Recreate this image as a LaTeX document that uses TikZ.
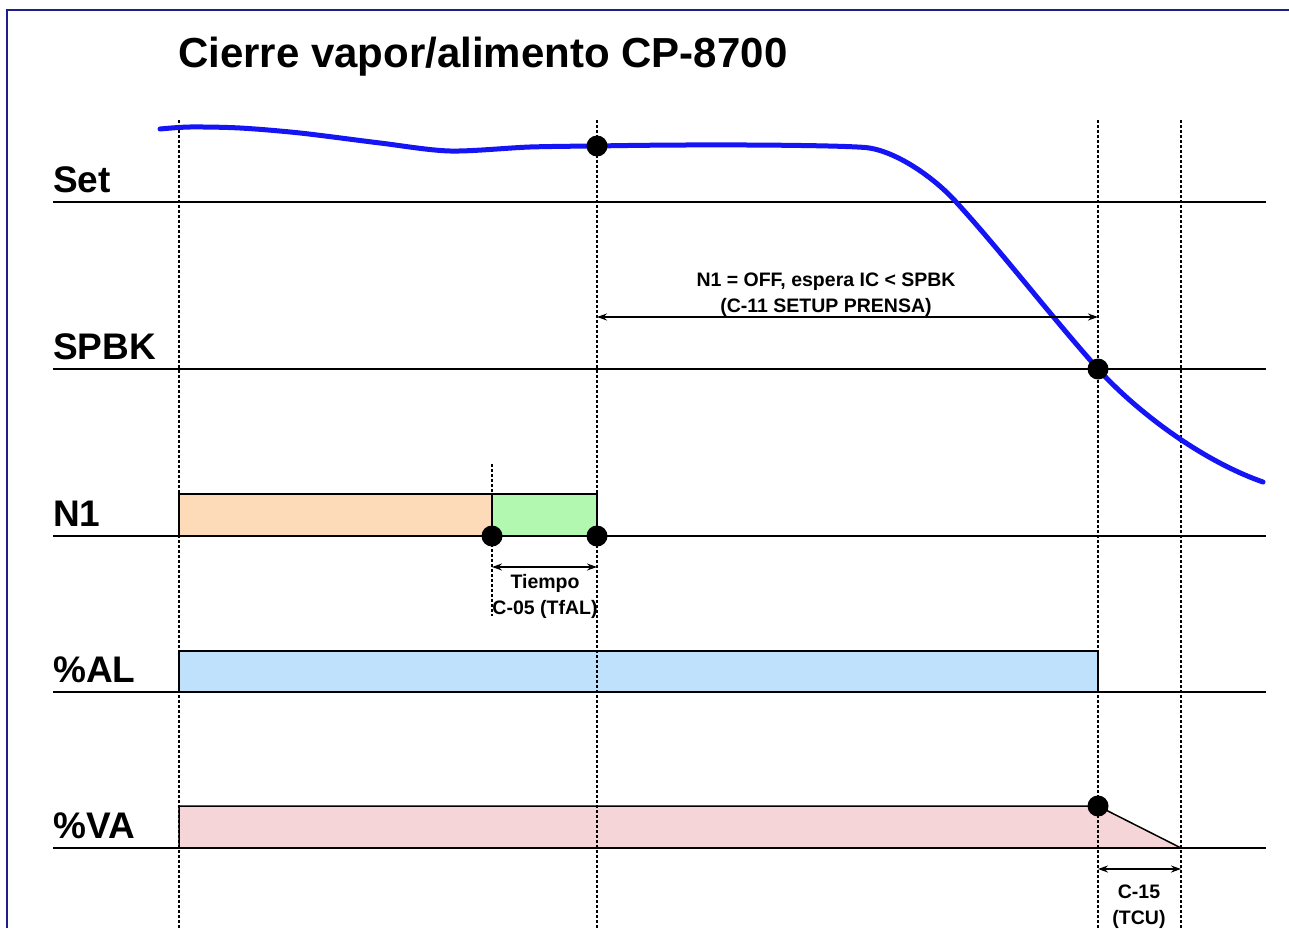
\documentclass[tikz,border=0pt]{standalone}
\usepackage{fontspec}
\setmainfont{Liberation Sans}
\usetikzlibrary{arrows.meta}
\definecolor{framecol}{HTML}{1E1E8C}
\definecolor{curvecol}{HTML}{1414F5}
\definecolor{orangefill}{HTML}{FDDAB8}
\definecolor{greenfill}{HTML}{B3F8B0}
\definecolor{bluefill}{HTML}{BFE1FB}
\definecolor{pinkfill}{HTML}{F5D5D8}
\tikzset{
  axisline/.style={line width=2pt, black},
  guide/.style={line width=1.5pt, dash pattern=on 3pt off 2pt, black},
  dot/.style={circle, fill=black, inner sep=0pt, minimum size=21pt},
  bar/.style={draw=black, line width=1.5pt},
  rowlabel/.style={anchor=base west, inner sep=0pt, font=\bfseries\fontsize{37}{40}\selectfont},
  dimtext/.style={align=center, inner sep=0pt, font=\bfseries\fontsize{19.5}{26}\selectfont},
  dimarrow/.style={line width=1.3pt, {Stealth[length=10pt,width=7pt]}-{Stealth[length=10pt,width=7pt]}},
  curve/.style={curvecol, line width=5pt, line cap=round},
}
\begin{document}
\begin{tikzpicture}[x=1pt,y=-1pt]
\useasboundingbox (0,0) rectangle (1289,928);
% frame
\draw[framecol, line width=2.2pt] (7,928) -- (7,10) -- (1289,10);
% title
\node[anchor=base west, inner sep=0pt, font=\bfseries\fontsize{42}{46}\selectfont] (title) at (178,68) {Cierre vapor/alimento CP-8700};
% fills
\fill[orangefill] (179,494) rectangle (492,536);
\fill[greenfill] (492,494) rectangle (597,536);
\fill[bluefill] (179,651) rectangle (1098,692);
\fill[pinkfill] (179,806) -- (1098,806) -- (1181,848) -- (179,848) -- cycle;
% bar outlines
\draw[bar] (179,536) -- (179,494) -- (597,494) -- (597,536);
\draw[bar] (492,494) -- (492,536);
\draw[bar] (179,692) -- (179,651) -- (1098,651) -- (1098,692);
\draw[bar] (179,848) -- (179,806) -- (1098,806) -- (1181,848);
% guides
\coordinate (g1t) at (179,120); \coordinate (g1b) at (179,928);
\coordinate (g2t) at (597,120); \coordinate (g2b) at (597,928);
\coordinate (g3t) at (1098,120); \coordinate (g3b) at (1098,928);
\coordinate (g4t) at (1181,120); \coordinate (g4b) at (1181,928);
\coordinate (g5t) at (492,464); \coordinate (g5b) at (492,616);
\draw[guide] (g1t) -- (g1b);
\draw[guide] (g2t) -- (g2b);
\draw[guide] (g3t) -- (g3b);
\draw[guide] (g4t) -- (g4b);
\draw[guide] (g5t) -- (g5b);
% axis lines
\foreach \yy in {202,369,536,692,848} \draw[axisline] (53,\yy) -- (1266,\yy);
% labels
\node[rowlabel] (lset) at (53,193) {Set};
\node[rowlabel] (lspbk) at (53,359) {SPBK};
\node[rowlabel] (ln1) at (53,526) {N1};
\node[rowlabel] (lal) at (53,682) {\%AL};
\node[rowlabel] (lva) at (53,838) {\%VA};
% curve
\draw[curve] plot[smooth, tension=0.5] coordinates {
 (160,129) (190,127) (240,128) (300,133) (380,143) (450,151) (530,147) (597,146)};
\draw[curve] (597,146) .. controls (700,144) and (835,145) .. (865,147.5)
  .. controls (895,150) and (935,178) .. (957,203)
  .. controls (1000,250) and (1050,315) .. (1098,369)
  .. controls (1135,410) and (1200,460) .. (1263,482);
% dots
\node[dot] (d1) at (597,146) {};
\node[dot] (d2) at (1098,369) {};
\node[dot] (d3) at (492,536) {};
\node[dot] (d4) at (597,536) {};
\node[dot] (d5) at (1098,806) {};
% dimension arrows
\coordinate (a1l) at (597,317); \coordinate (a1r) at (1098,317);
\draw[dimarrow] (a1l) -- (a1r);
\node[dimtext] (t1) at (826,295) {N1 = OFF, espera IC < SPBK\\(C-11 SETUP PRENSA)};
\coordinate (a2l) at (492,567); \coordinate (a2r) at (597,567);
\draw[dimarrow] (a2l) -- (a2r);
\node[dimtext] (t2) at (545,596) {Tiempo\\C-05 (TfAL)};
\coordinate (a3l) at (1098,869); \coordinate (a3r) at (1181,869);
\draw[dimarrow] (a3l) -- (a3r);
\node[dimtext] (t3) at (1139,907) {C-15\\(TCU)};
\end{tikzpicture}
\end{document}
